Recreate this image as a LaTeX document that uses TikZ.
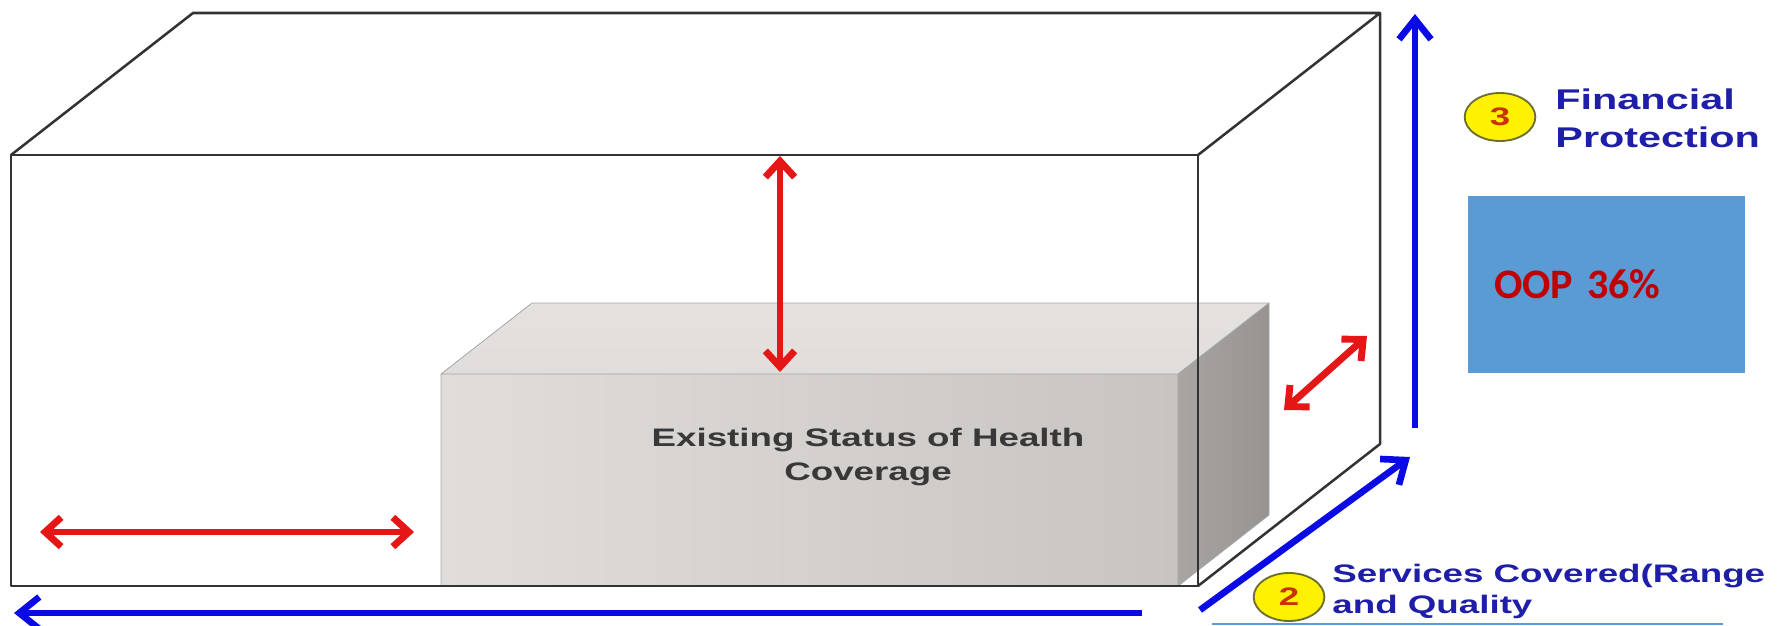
\documentclass[tikz,border=0pt]{standalone}
\usepackage{fontspec}
\setmainfont{Liberation Sans}
\newfontfamily\calibrifont{Carlito}
\usetikzlibrary{arrows.meta,shapes.geometric}

\definecolor{axisblue}{RGB}{10,10,228}
\definecolor{labelblue}{RGB}{30,30,168}
\definecolor{gapred}{RGB}{228,22,22}
\definecolor{frontgrey}{RGB}{224,221,218}
\definecolor{frontgreydark}{RGB}{200,196,193}
\definecolor{topgrey}{RGB}{228,225,222}
\definecolor{sidegrey}{RGB}{168,165,162}
\definecolor{sidegreydark}{RGB}{150,147,144}
\definecolor{oopblue}{RGB}{91,155,213}
\definecolor{oopred}{RGB}{192,0,0}
\definecolor{badgerim}{RGB}{110,110,50}
\definecolor{badgetext}{RGB}{200,50,0}

\tikzset{
  boxedge/.style={draw=black!80, line width=1.9pt, line join=round},
  blockedge/.style={draw=black!35, line width=0.6pt},
  gaparrow/.style={gapred, line width=5.2pt,
    {Straight Barb[length=12pt,width=22pt]}-{Straight Barb[length=12pt,width=22pt]}},
  axisarrow/.style={axisblue, line width=5pt, -{Straight Barb[length=15pt,width=24pt]}},
  badge/.style={ellipse, draw=badgerim, line width=1.4pt, fill=yellow,
    minimum width=53pt, minimum height=36pt, inner sep=0pt,
    font=\fontsize{19}{19}\selectfont\bfseries, text=badgetext},
  axislabel/.style={anchor=west, align=left, text=labelblue, inner sep=0pt, xscale=1.45},
  blocklabel/.style={align=center, text=black!78, inner sep=0pt, xscale=1.45,
    font=\fontsize{19}{25.5}\selectfont\bfseries},
  oopbox/.style={fill=oopblue, minimum width=207.75pt, minimum height=132.75pt,
    text width=168.75pt, inner xsep=19.5pt, align=left, text=oopred,
    font=\fontsize{31.5}{31.5}\calibrifont\bfseries}
}

\begin{document}
\begin{tikzpicture}[x=0.75pt, y=-0.75pt]
  \useasboundingbox (0,0) rectangle (1777,625);

  % Corners of the existing block
  \coordinate (cfl) at (441,374);
  \coordinate (cfr) at (1178,374);
  \coordinate (cbr) at (1178,586);
  \coordinate (cbl) at (441,586);
  \coordinate (ctl) at (532,303);
  \coordinate (ctr) at (1269,303);
  \coordinate (csb) at (1269,515);

  % Existing block
  \shade[left color=frontgrey, right color=frontgreydark] (cfl) rectangle (cbr);
  \shade[top color=topgrey, bottom color=frontgrey] (cfl) -- (ctl) -- (ctr) -- (cfr) -- cycle;
  \shade[left color=sidegrey, right color=sidegreydark] (cfr) -- (ctr) -- (csb) -- (cbr) -- cycle;
  \draw[blockedge] (cbl) -- (cfl) -- (ctl) -- (ctr) -- (cfr) -- (cfl);
  \draw[blockedge] (ctr) -- (csb) -- (cbr) -- (cfr);
  \node[blocklabel] (status) at (868,457) {Existing Status of Health\\Coverage};

  % Corners of the outer box
  \coordinate (ftl) at (11,155);
  \coordinate (ftr) at (1198,155);
  \coordinate (fbr) at (1198,586);
  \coordinate (fbl) at (11,586);
  \coordinate (btl) at (193,13);
  \coordinate (btr) at (1380,13);
  \coordinate (bbr) at (1380,444);

  % Outer box
  \draw[boxedge] (ftl) rectangle (fbr);
  \draw[boxedge] (ftl) -- (btl) -- (btr) -- (ftr);
  \draw[boxedge] (btr) -- (bbr) -- (fbr);

  % Gaps to full coverage
  \coordinate (wl) at (40,532);
  \coordinate (wr) at (414,532);
  \coordinate (ht) at (780,156);
  \coordinate (hb) at (780,372);
  \coordinate (dl) at (1284,410);
  \coordinate (du) at (1367,336);
  \draw[gaparrow] (wl) -- (wr);
  \draw[gaparrow] (ht) -- (hb);
  \draw[gaparrow] (dl) -- (du);

  % Axes
  \coordinate (pop-s) at (1142,613);
  \coordinate (pop-e) at (14,613);
  \coordinate (srv-s) at (1200,610);
  \coordinate (srv-e) at (1410,457);
  \coordinate (fin-s) at (1415,428);
  \coordinate (fin-e) at (1415,14);
  \draw[axisarrow] (pop-s) -- (pop-e);
  \draw[axisarrow] (srv-s) -- (srv-e);
  \draw[axisarrow] (fin-s) -- (fin-e);

  % Axis labels
  \node[badge] (b3) at (1500,117) {\scalebox{1.45}[1]{3}};
  \node[axislabel, font=\fontsize{21.4}{28.5}\selectfont\bfseries]
    (fin) at (1555,118.5) {Financial\\Protection};
  \node[badge] (b2) at (1289,597) {\scalebox{1.45}[1]{2}};
  \node[axislabel, font=\fontsize{19}{23.25}\selectfont\bfseries]
    (srv) at (1332,591) {Services Covered(Range\\and Quality};

  % Out of pocket share
  \node[oopbox] (oop) at (1606.5,284.5) {OOP 36\%};
  \fill[oopblue] (1212,622.5) rectangle (1723,625);

\end{tikzpicture}
\end{document}
